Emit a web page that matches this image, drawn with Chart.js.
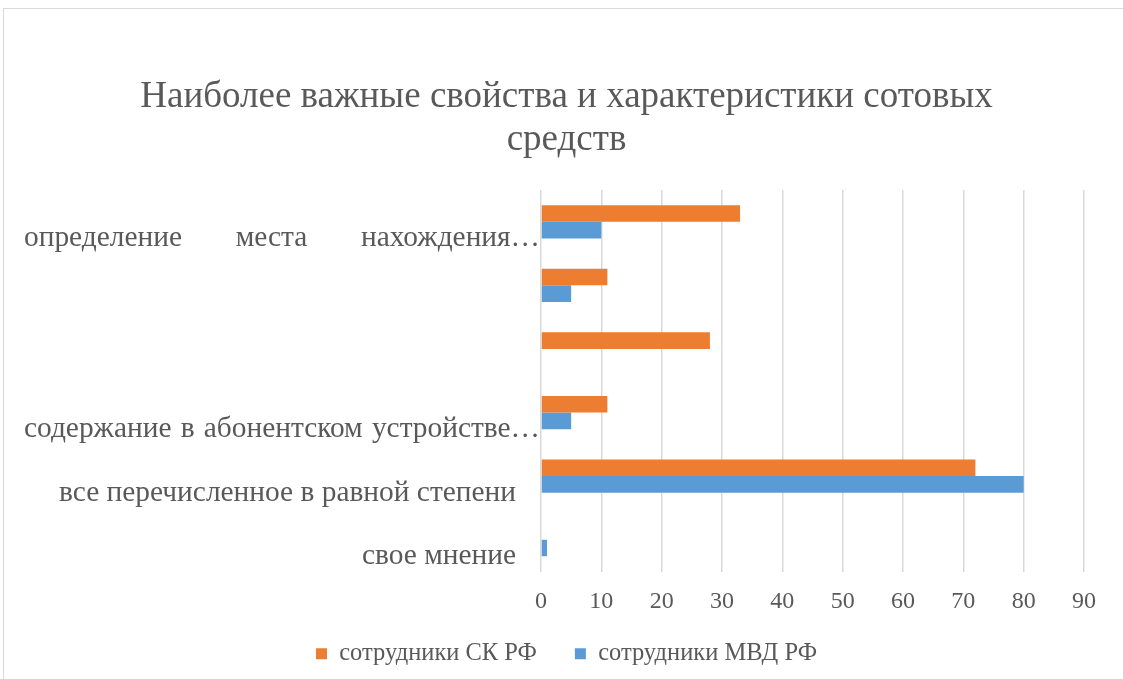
<!DOCTYPE html>
<html lang="ru">
<head>
    <meta charset="UTF-8">
    <title>Наиболее важные свойства и характеристики сотовых средств</title>
    <style>
        body { margin: 0; background: #fff; }
        #wrap { position: relative; width: 1123px; height: 679px; overflow: hidden; }
        #frame { position: absolute; left: 3px; top: 8px; width: 1140px; height: 700px; border: 1px solid #d9d9d9; }
        canvas { position: absolute; left: 0; top: 0; }
    </style>
</head>
<body>
<div id="wrap">
    <div id="frame"></div>
    <canvas id="myChart" width="1123" height="679"></canvas>
</div>
<script src="https://cdn.jsdelivr.net/npm/chart.js"></script>
<script>
    var categories = [
        'определение места нахождения…',
        '',
        '',
        'содержание в абонентском устройстве…',
        'все перечисленное в равной степени',
        'свое мнение'
    ];
    var skValues = [33, 11, 28, 11, 72, 0];
    var mvdValues = [10, 5, 0, 5, 80, 1];
    var xTicks = [0, 10, 20, 30, 40, 50, 60, 70, 80, 90];

    var textColor = '#595959';
    var serif = "'Liberation Serif', 'Times New Roman', serif";

    // подписи категорий: длинные обрезанные строки выровнены по ширине, как в Excel
    var categoryLabels = {
        id: 'categoryLabels',
        beforeDraw: function (chart) {
            // ось X сделана низкой, чтобы легенда встала ниже; не обрезаем её подписи
            chart.scales.x._computeLabelArea = function () { return undefined; };
        },
        afterDraw: function (chart) {
            var ctx = chart.ctx;
            var y = chart.scales.y;
            ctx.save();
            ctx.font = '29.4px ' + serif;
            ctx.fillStyle = textColor;
            ctx.textBaseline = 'middle';
            chart.data.labels.forEach(function (label, i) {
                if (!label) return;
                var py = y.getPixelForValue(i) + 17;
                if (label.endsWith('…')) {
                    var words = label.split(' ');
                    var left = 24, right = 540;
                    var total = 0;
                    words.forEach(function (w) { total += ctx.measureText(w).width; });
                    var gap = (right - left - total) / (words.length - 1);
                    var x = left;
                    ctx.textAlign = 'left';
                    words.forEach(function (w) {
                        ctx.fillText(w, x, py);
                        x += ctx.measureText(w).width + gap;
                    });
                } else {
                    ctx.textAlign = 'right';
                    ctx.fillText(label, 516, py);
                }
            });
            ctx.restore();
        }
    };

    var ctx = document.getElementById('myChart').getContext('2d');
    var myChart = new Chart(ctx, {
        type: 'bar',
        data: {
            labels: categories,
            datasets: [{
                label: 'сотрудники СК РФ',
                data: skValues,
                backgroundColor: '#ED7D31',
                borderWidth: 0
            }, {
                label: 'сотрудники МВД РФ',
                data: mvdValues,
                backgroundColor: '#5B9BD5',
                borderWidth: 0
            }]
        },
        options: {
            indexAxis: 'y',
            responsive: false,
            animation: false,
            datasets: {
                bar: { categoryPercentage: 0.523, barPercentage: 1.0 }
            },
            layout: { padding: { top: 10, right: 0, bottom: 3, left: 10 } },
            plugins: {
                title: {
                    display: true,
                    text: ['Наиболее важные свойства и характеристики сотовых', 'средств'],
                    color: textColor,
                    font: { family: serif, size: 37, weight: 'normal', lineHeight: 1.162 },
                    padding: { top: 66, bottom: 28 }
                },
                legend: {
                    position: 'bottom',
                    labels: {
                        color: textColor,
                        font: { family: serif, size: 24.5 },
                        boxWidth: 11,
                        boxHeight: 11,
                        padding: 38
                    }
                },
                tooltip: { enabled: false }
            },
            scales: {
                x: {
                    min: 0,
                    max: 90,
                    afterBuildTicks: function (axis) {
                        axis.ticks = xTicks.map(function (v) { return { value: v }; });
                    },
                    afterFit: function (axis) { axis.height = 32; },
                    grid: { color: '#d9d9d9', lineWidth: 1.5, drawTicks: false },
                    border: { display: false },
                    ticks: {
                        color: textColor,
                        font: { family: serif, size: 24 },
                        padding: 16
                    }
                },
                y: {
                    grid: { display: false },
                    border: { display: false },
                    ticks: { display: false },
                    afterFit: function (axis) { axis.width = 531; }
                },
                // пустая правая ось — отступ справа от области построения
                yRight: {
                    axis: 'y',
                    position: 'right',
                    grid: { display: false },
                    border: { display: false },
                    ticks: { display: false },
                    afterFit: function (axis) { axis.width = 39; }
                }
            }
        },
        plugins: [categoryLabels]
    });
</script>
</body>
</html>
